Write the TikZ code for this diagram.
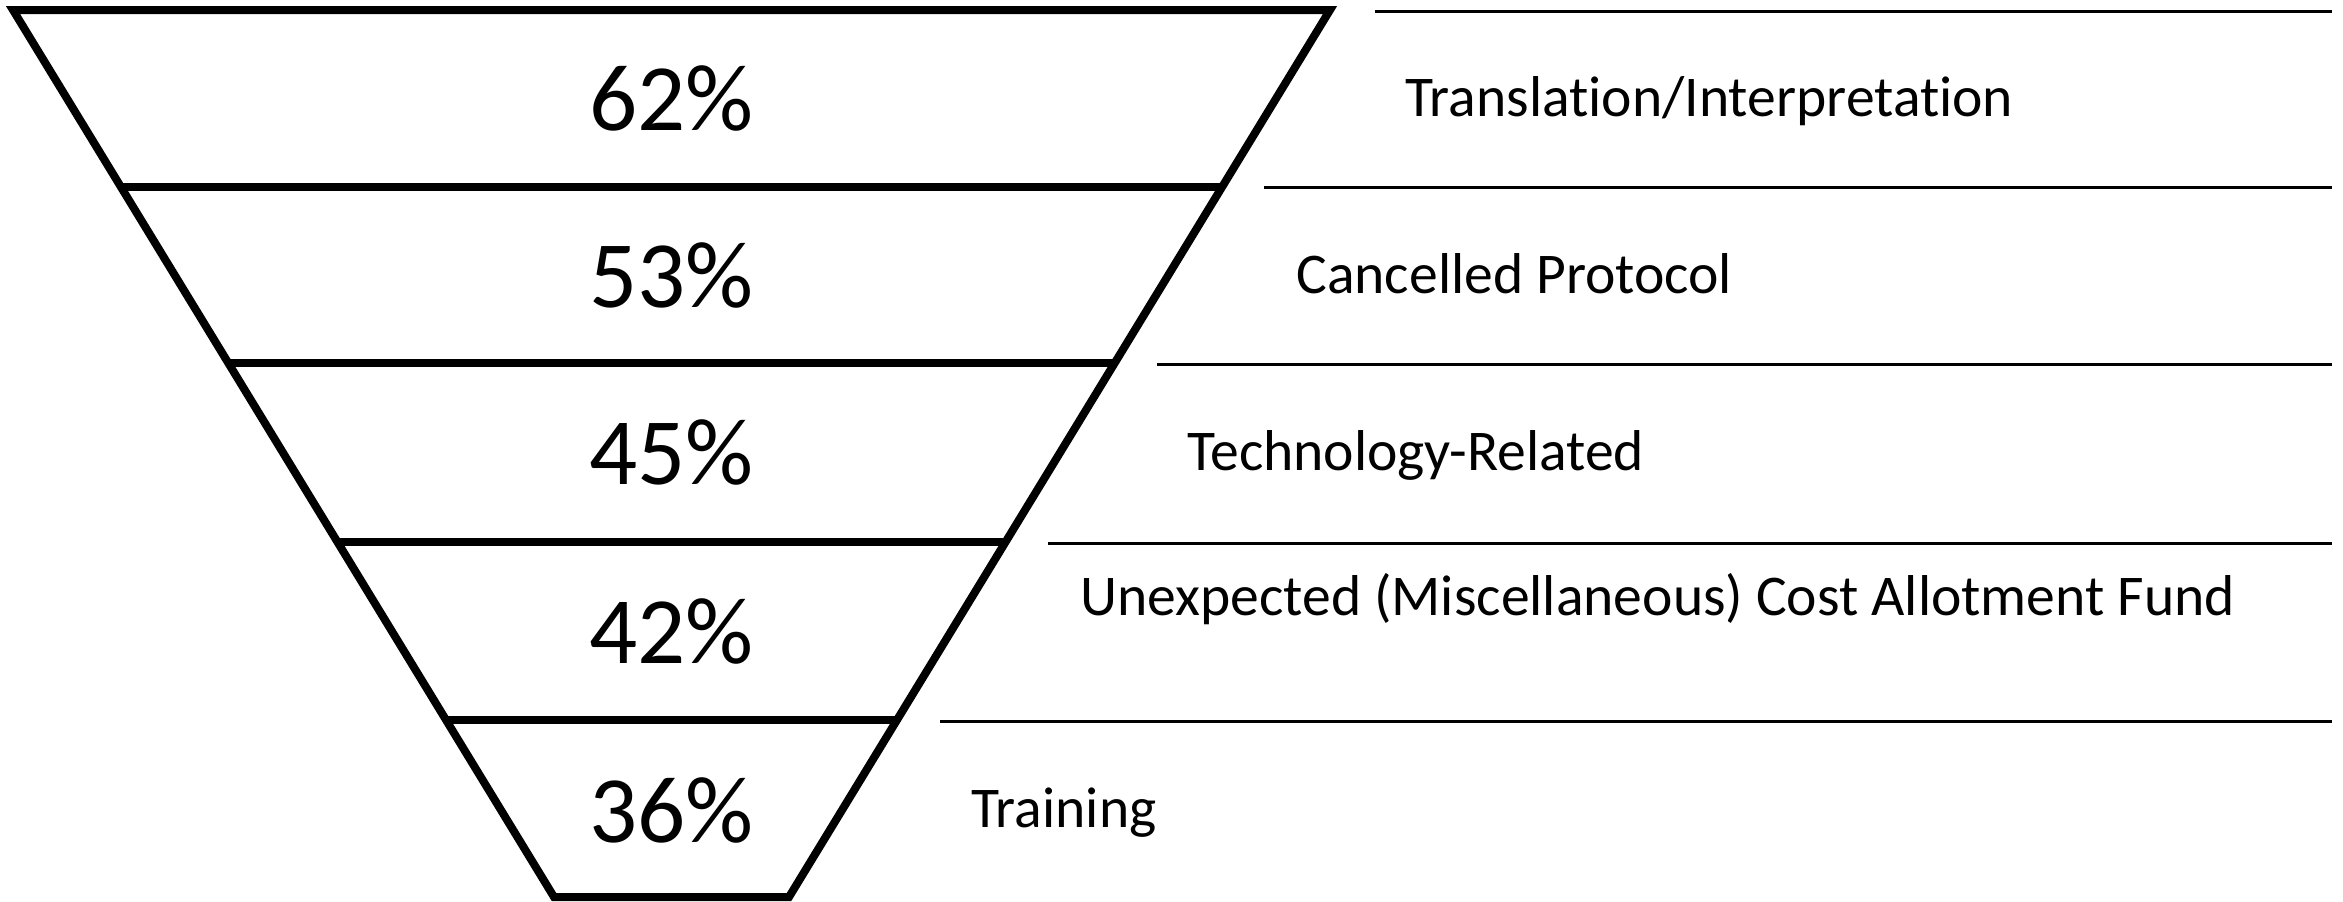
\documentclass[tikz,border=0pt]{standalone}
\usepackage{fontspec}
\setmainfont{Carlito}[Ligatures=NoCommon]
\usetikzlibrary{calc}
\begin{document}
\begin{tikzpicture}[x=0.5pt,y=-0.5pt,
  funnel/.style={line width=4pt,line join=miter},
  divider/.style={line width=4pt},
  rule/.style={line width=1.5pt},
  pct/.style={anchor=base,inner sep=0pt,font=\fontsize{47.5pt}{57pt}\selectfont},
  lbl/.style={anchor=base west,inner sep=0pt,font=\fontsize{28.8pt}{34pt}\selectfont}]
\useasboundingbox (0,0) rectangle (2343,901);
% funnel corners
\coordinate (TL) at (13,10);
\coordinate (TR) at (1330,10);
\coordinate (BL) at (554,897);
\coordinate (BR) at (789,897);
\draw[funnel] (TL) -- (TR) -- (BR) -- (BL) -- cycle;
% dividers
\foreach \y [count=\i] in {187,363,542,720} {
  \coordinate (L\i) at ($(TL)!{(\y-10)/887}!(BL)$);
  \coordinate (R\i) at ($(TR)!{(\y-10)/887}!(BR)$);
}
\draw[divider] (L1) -- (R1);
\draw[divider] (L2) -- (R2);
\draw[divider] (L3) -- (R3);
\draw[divider] (L4) -- (R4);
% right rules
\coordinate (a1) at (1375,11);  \coordinate (b1) at (2332,11);
\coordinate (a2) at (1264,187); \coordinate (b2) at (2332,187);
\coordinate (a3) at (1157,364); \coordinate (b3) at (2332,364);
\coordinate (a4) at (1048,543); \coordinate (b4) at (2332,543);
\coordinate (a5) at (940,721);  \coordinate (b5) at (2332,721);
\draw[rule] (a1) -- (b1);
\draw[rule] (a2) -- (b2);
\draw[rule] (a3) -- (b3);
\draw[rule] (a4) -- (b4);
\draw[rule] (a5) -- (b5);
% percentages
\node[pct] (p1) at (671.5,130) {62\%};
\node[pct] (p2) at (671.5,307) {53\%};
\node[pct] (p3) at (671.5,484) {45\%};
\node[pct] (p4) at (671.5,663) {42\%};
\node[pct] (p5) at (671.5,842) {36\%};
% labels
\node[lbl] (t1) at (1405,116) {Translation/Interpretation};
\node[lbl] (t2) at (1296,293) {Cancelled Protocol};
\node[lbl] (t3) at (1187,470) {Technology-Related};
\node[lbl] (t4) at (1080,615) {Unexpected (Miscellaneous) Cost Allotment Fund};
\node[lbl] (t5) at (971,827) {Training};
\end{tikzpicture}
\end{document}
